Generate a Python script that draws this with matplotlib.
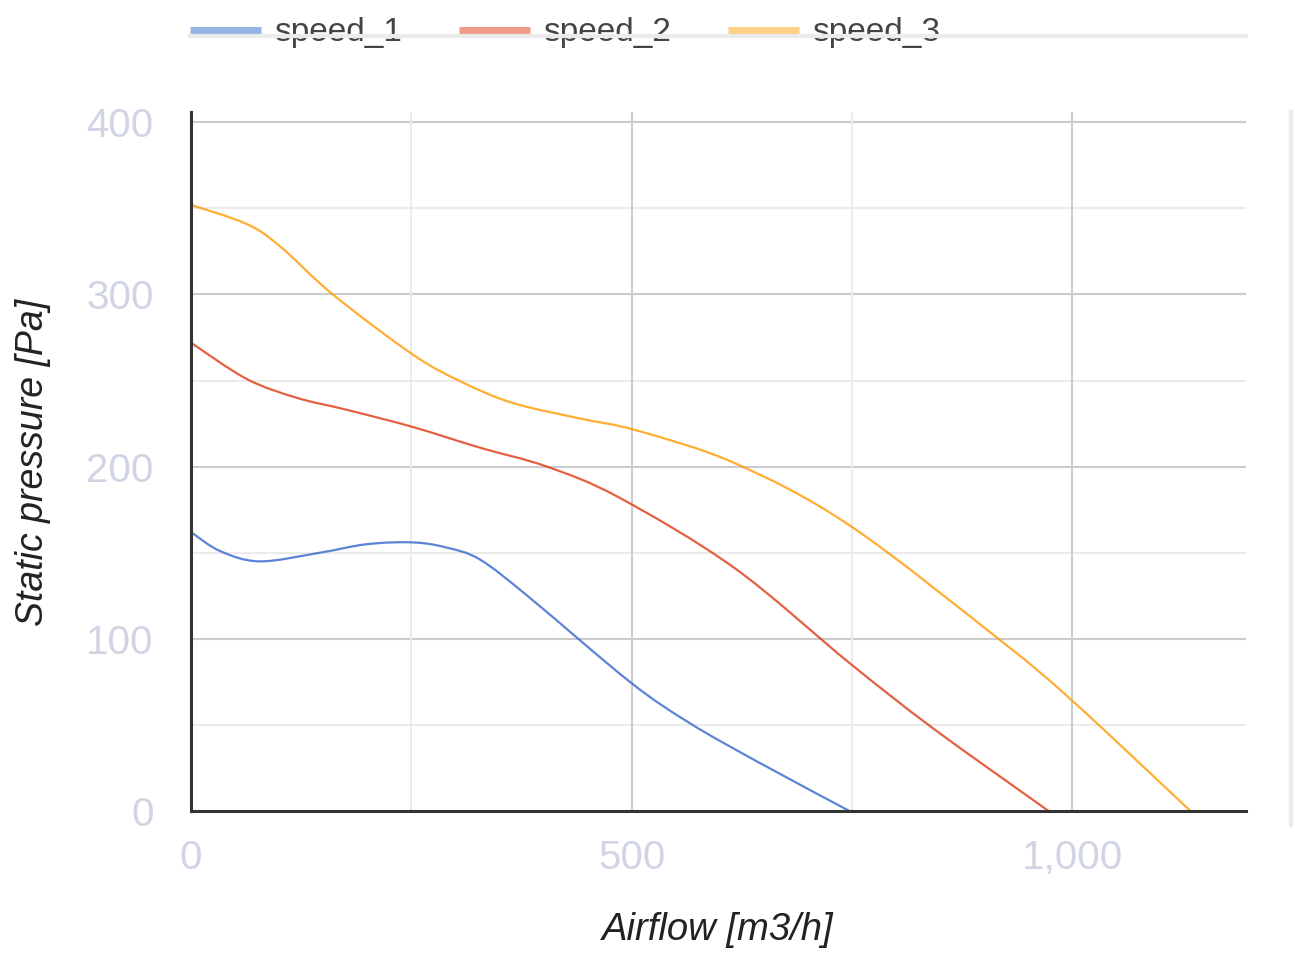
#import necessary libraries
import numpy as np
import matplotlib
matplotlib.use('Agg')
import matplotlib.pyplot as plt
from matplotlib.path import Path
from matplotlib.patches import PathPatch
from matplotlib.lines import Line2D

# fan curves (airflow m3/h, static pressure Pa)
speed_1_x = [0, 33, 78, 146, 200, 252, 290, 328, 384, 498, 566, 645, 747]
speed_1_y = [162, 151, 145, 150, 155, 156, 153, 146, 124, 75, 51, 28, 0]
speed_2_x = [0, 63, 120, 177, 252, 328, 404, 486, 617, 747, 842, 973]
speed_2_y = [272, 251, 240, 233, 223, 211, 200, 182, 141, 86, 48, 0]
speed_3_x = [0, 63, 101, 161, 252, 308, 365, 441, 506, 617, 747, 921, 1000, 1134]
speed_3_y = [352, 341, 328, 300, 265, 249, 237, 228, 221, 202, 166, 98, 64, 0]

names = ['speed_1', 'speed_2', 'speed_3']
line_colors = ['#3366cc', '#dc3912', '#ff9900']
swatch_colors = ['#97b3e6', '#ee9c88', '#fdd085']
x_ticks = [0, 500, 1000]
x_labels = ['0', '500', '1,000']
y_ticks = [0, 100, 200, 300, 400]

plt.rcParams['font.family'] = ['Liberation Sans', 'DejaVu Sans']

def smooth_path(xs, ys):
    # catmull-rom through the points, drawn as cubic bezier pieces
    pts = np.column_stack([xs, ys]).astype(float)
    n = len(pts)
    verts = [pts[0]]
    codes = [Path.MOVETO]
    for i in range(n - 1):
        p0 = pts[max(i - 1, 0)]
        p1 = pts[i]
        p2 = pts[i + 1]
        p3 = pts[min(i + 2, n - 1)]
        verts += [p1 + (p2 - p0) / 6, p2 - (p3 - p1) / 6, p2]
        codes += [Path.CURVE4] * 3
    return Path(verts, codes)

fig = plt.figure(figsize=(12.95, 9.56), dpi=100)
ax = fig.add_axes([191/1295, 1-811/956, (1246-191)/1295, (811-112)/956])
ax.set_xlim(0, 1197)
ax.set_ylim(0, 406)

# grid: major and minor
for v in [100, 200, 300, 400]:
    ax.axhline(v, color='#cccccc', lw=1.5, zorder=1)
for v in [50, 150, 250, 350]:
    ax.axhline(v, color='#ebebeb', lw=1.5, zorder=1)
for v in [500, 1000]:
    ax.axvline(v, color='#cccccc', lw=1.5, zorder=1)
for v in [250, 750]:
    ax.axvline(v, color='#ebebeb', lw=1.5, zorder=1)

series = [(speed_1_x, speed_1_y), (speed_2_x, speed_2_y), (speed_3_x, speed_3_y)]
for (xs, ys), c in zip(series, line_colors):
    ax.add_patch(PathPatch(smooth_path(xs, ys), fill=False, edgecolor=c,
                           lw=1.6, alpha=0.8, zorder=3, capstyle='butt'))

for s in ['top', 'right']:
    ax.spines[s].set_visible(False)
for s in ['left', 'bottom']:
    ax.spines[s].set_color('#333333')
    ax.spines[s].set_linewidth(2.2)
    ax.spines[s].set_zorder(4)

ax.set_xticks(x_ticks)
ax.set_xticklabels(x_labels)
ax.set_yticks(y_ticks)
ax.tick_params(axis='both', length=0, labelsize=29, labelcolor='#d0d4e4')
ax.tick_params(axis='x', pad=20)
ax.tick_params(axis='y', pad=27)

fig.text(718/1295, 1-930/956, 'Airflow [m3/h]', ha='center', va='center',
         fontsize=27.5, style='italic', color='#222222')
fig.text(33/1295, 1-462/956, 'Static pressure [Pa]', ha='center', va='center',
         rotation=90, fontsize=27, style='italic', color='#222222')

# legend on top
sw_left = [190, 459, 728]
for x0, c, name in zip(sw_left, swatch_colors, names):
    fig.add_artist(Line2D([x0/1295, (x0+71)/1295], [1-30/956, 1-30/956],
                          color=c, lw=5, solid_capstyle='butt'))
    fig.text((x0+84)/1295, 1-41/956, name, ha='left', va='baseline',
             fontsize=24, color='#444444')
fig.add_artist(Line2D([190/1295, 1246/1295], [1-36/956, 1-36/956],
                      color='#ebebeb', lw=3, zorder=5))
fig.add_artist(Line2D([1291/1295, 1291/1295], [1-112/956, 1-825/956],
                      color='#ebebeb', lw=3))

plt.savefig('out.png', dpi=100)
